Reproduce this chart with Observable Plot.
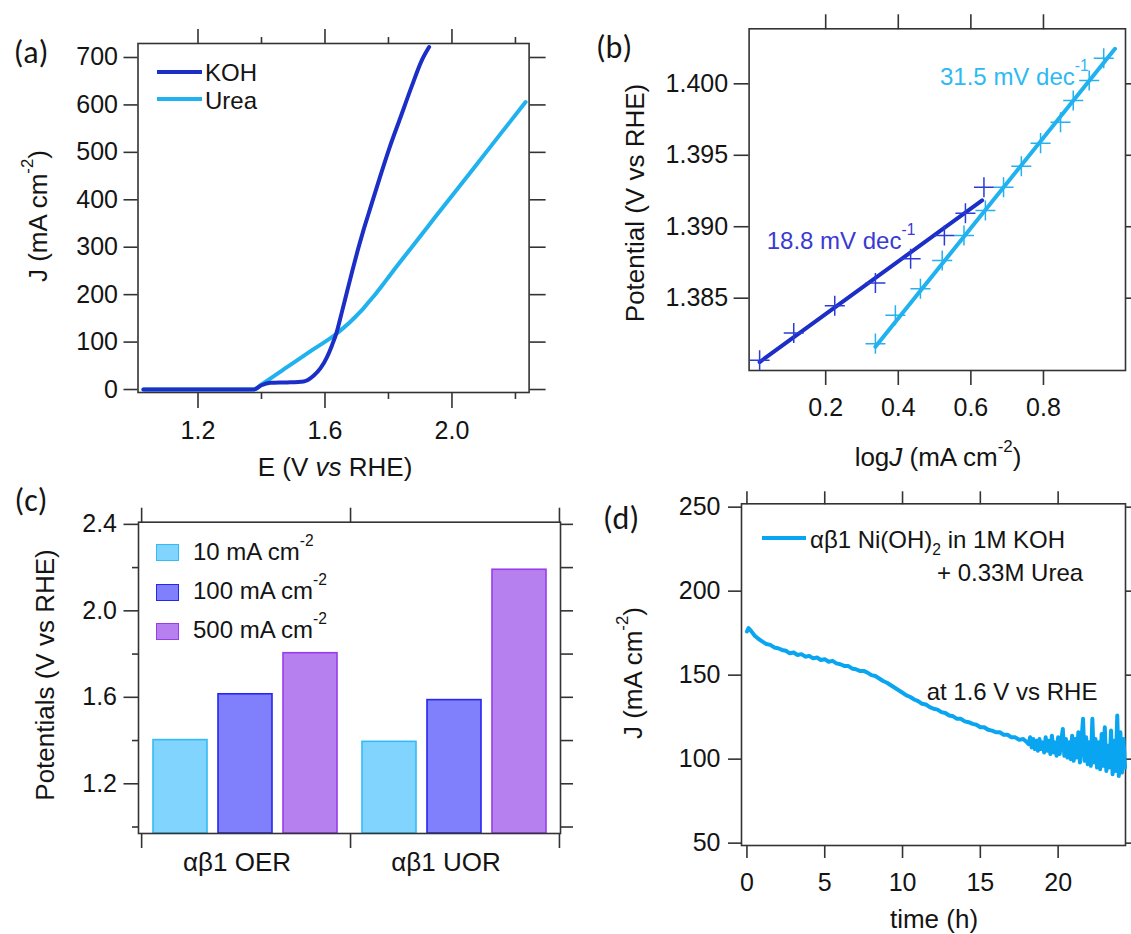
<!DOCTYPE html>
<html>
<head>
<meta charset="utf-8">
<script src="https://cdn.jsdelivr.net/npm/d3@7"></script>
<script src="https://cdn.jsdelivr.net/npm/@observablehq/plot@0.6"></script>
<style>
  body { margin: 0; background: #fff; }
  #fig { position: relative; width: 1131px; height: 934px; overflow: hidden; background: #fff;
         font-family: "Liberation Sans", Arial, Helvetica, sans-serif; color: #141414; }
  #fig svg { position: absolute; left: 0; top: 0; background: transparent !important; max-width: none !important; }
  .t { position: absolute; white-space: nowrap; line-height: 1; }
  .t sup { font-size: 0.65em; position: relative; top: -0.85em; vertical-align: baseline; line-height: 0; }
  .t sub { font-size: 0.65em; position: relative; top: 0.5em; vertical-align: baseline; line-height: 0; }
  .sw { position: absolute; box-sizing: border-box; }
</style>
</head>
<body>
<div id="fig"></div>
<script>
// ---------------- DATA ----------------
// (a) LSV curves
const aE_KOH  = [1.028, 1.20, 1.376, 1.400, 1.428, 1.480, 1.533, 1.564, 1.586, 1.606, 1.622, 1.637, 1.652, 1.669, 1.686, 1.703, 1.720, 1.737, 1.770, 1.804, 1.838, 1.872, 1.905, 1.928];
const aJ_KOH  = [0, 0, 0, 9, 14, 15, 17, 29, 45, 68, 93, 121, 160, 205, 250, 293, 333, 370, 441, 511, 574, 637, 694, 722];
const aE_Urea = [1.028, 1.20, 1.376, 1.399, 1.478, 1.557, 1.635, 1.660, 1.680, 1.700, 1.720, 1.740, 1.760, 1.790, 1.816, 1.872, 1.928, 1.984, 2.040, 2.097, 2.153, 2.232];
const aJ_Urea = [0, 0, 0, 10, 46, 82, 117, 131, 143, 156, 170, 186, 202, 228, 251, 299, 347, 395, 442, 491, 539, 606];
const aSeries = ["KOH", "Urea"];
const aXMajor = [1.2, 1.6, 2.0];
const aXMinor = [1.4, 1.8, 2.2];
const aYTicks = [0, 100, 200, 300, 400, 500, 600, 700];

// (b) Tafel plots
const bLogJ_KOH  = [0.018, 0.112, 0.225, 0.337, 0.434, 0.527, 0.585, 0.636];
const bE_KOH     = [1.38065, 1.38256, 1.38447, 1.38606, 1.38776, 1.38939, 1.39095, 1.39277];
const bLogJ_Urea = [0.337, 0.392, 0.461, 0.521, 0.581, 0.640, 0.690, 0.739, 0.792, 0.847, 0.882, 0.926, 0.966];
const bE_Urea    = [1.38182, 1.38380, 1.38566, 1.38764, 1.38939, 1.39114, 1.39277, 1.39424, 1.39585, 1.39731, 1.39883, 1.40023, 1.40179];
const bFitKOH_x  = [0.018, 0.631];
const bFitKOH_y  = [1.38053, 1.39184];
const bFitUrea_x = [0.337, 0.997];
const bFitUrea_y = [1.38160, 1.40245];
const bSlopes    = ["18.8 mV dec", "31.5 mV dec"];
const bXTicks = [0.2, 0.4, 0.6, 0.8];
const bYTicks = [1.385, 1.390, 1.395, 1.400];

// (c) potentials at current densities
const cGroups   = ["αβ1 OER", "αβ1 UOR"];
const cCurrents = ["10", "100", "500"];
const cOER = [1.402, 1.614, 1.804];
const cUOR = [1.394, 1.587, 2.190];
const cYMajor = [1.2, 1.6, 2.0, 2.4];
const cYMinor = [1.0, 1.4, 1.8, 2.2];
const cEdges  = [0, 1, 2];

// (d) chronoamperometry
const dTime = [0, 0.1, 0.25, 0.5, 0.75, 1, 1.25, 1.5, 1.75, 2, 2.25, 2.5, 2.75, 3, 3.25, 3.5, 3.75, 4, 4.25, 4.5, 4.75,
  5, 5.25, 5.5, 5.75, 6, 6.25, 6.5, 6.75, 7, 7.25, 7.5, 7.75, 8, 8.25, 8.5, 8.75, 9, 9.25, 9.5, 9.75,
  10, 10.25, 10.5, 10.75, 11, 11.25, 11.5, 11.75, 12, 12.25, 12.5, 12.75, 13, 13.25, 13.5, 13.75, 14, 14.25, 14.5, 14.75,
  15, 15.25, 15.5, 15.75, 16, 16.25, 16.5, 16.75, 17, 17.25, 17.5, 17.75, 18,
  18.1, 18.2, 18.3, 18.4, 18.5, 18.6, 18.7, 18.8, 18.9, 19.0, 19.1, 19.2, 19.3, 19.4, 19.5, 19.6, 19.7, 19.8, 19.9, 20.0,
  20.1, 20.2, 20.3, 20.4, 20.5, 20.6, 20.7, 20.8, 20.9, 21.0, 21.1, 21.2, 21.3, 21.4, 21.5, 21.6, 21.7, 21.8, 21.9, 22.0,
  22.1, 22.2, 22.3, 22.4, 22.5, 22.6, 22.7, 22.8, 22.9, 23.0, 23.1, 23.2, 23.3, 23.4, 23.5, 23.6, 23.7, 23.8, 23.9, 24.0,
  24.1, 24.2, 24.3];
const dJ = [176, 178, 176.5, 173.5, 171.5, 170, 168.5, 168, 166.5, 166, 165, 164.5, 163, 163.5, 162, 162.5, 161, 161.5, 160, 160.5, 159,
  159.5, 158, 158.5, 157, 156.5, 155.5, 155.5, 154, 153.5, 152.5, 152.5, 151.5, 150, 149.5, 148, 146.5, 145.5, 144, 142.5, 141,
  139.5, 138, 137, 135.5, 134.5, 133, 132.5, 131, 130, 129.5, 128, 127.5, 126, 125.5, 124, 124, 122.5, 122, 121, 120.5,
  119, 119, 117.5, 117, 116, 116, 114.5, 114.5, 113, 113, 111.5, 112, 110,
  109, 113, 107, 112, 106, 111, 105, 112, 106, 110, 104, 113, 105, 111, 103, 114, 104, 110, 102, 113,
  103, 111, 118, 102, 112, 101, 110, 100, 114, 99, 112, 101, 116, 98, 111, 124, 99, 113, 97, 110,
  96, 124, 98, 112, 95, 110, 94, 115, 96, 119, 93, 108, 95, 117, 91, 111, 93, 126, 90, 116,
  92, 112, 95];
const dXTicks = [0, 5, 10, 15, 20];
const dYTicks = [50, 100, 150, 200, 250];
const dNote = [{t: 11.55, J: 140, text: "at 1.6 V vs RHE"}];

// ---------------- STYLE ----------------
const W = 1131, H = 934;
const FONT = '"Liberation Sans", Arial, Helvetica, sans-serif';
const style = {fontFamily: FONT, fontSize: "25px", color: "#141414", background: "transparent", overflow: "visible"};
const AX = {stroke: "#333", strokeWidth: 1.6, label: null};
const FRAME = {stroke: "#333", strokeWidth: 1.6};
const blank = () => "";
const KOH_COL = "#1b2fc6", UREA_COL = "#1fb2ef";
const KOH_MARK = "#2b3bd8", UREA_MARK = "#25b0f0";
const D_COL = "#0aa5f0";
const barFill   = ["#80d4fe", "#8080fc", "#b680ee"];
const barStroke = ["#33bbf8", "#2626f0", "#9a3cea"];

const fig = document.getElementById("fig");
const zipXY = (xs, ys, kx, ky) => xs.map((v, i) => ({[kx]: v, [ky]: ys[i]}));

// ---------------- (a) ----------------
const aKOH  = zipXY(aE_KOH, aJ_KOH, "E", "J");
const aUrea = zipXY(aE_Urea, aJ_Urea, "E", "J");
fig.appendChild(Plot.plot({
  width: W, height: H, style,
  marginLeft: 137.5, marginRight: W - 528.6, marginTop: 43, marginBottom: H - 392,
  x: {domain: [1.011, 2.243], label: null},
  y: {domain: [-6.3, 729.5], label: null},
  marks: [
    Plot.frame(FRAME),
    Plot.axisY({...AX, anchor: "left", ticks: aYTicks, tickSize: 14, tickPadding: 6, tickFormat: d3.format("d")}),
    Plot.axisY({...AX, anchor: "right", ticks: aYTicks, tickSize: 16, tickFormat: blank}),
    Plot.axisX({...AX, anchor: "bottom", ticks: aXMajor, tickSize: 16, tickPadding: 13, tickFormat: d3.format(".1f")}),
    Plot.axisX({...AX, anchor: "bottom", ticks: aXMinor, tickSize: 7, tickFormat: blank}),
    Plot.axisX({...AX, anchor: "top", ticks: aXMajor, tickSize: 15, tickFormat: blank}),
    Plot.axisX({...AX, anchor: "top", ticks: aXMinor, tickSize: 7, tickFormat: blank}),
    Plot.line(aUrea, {x: "E", y: "J", stroke: UREA_COL, strokeWidth: 4, curve: "monotone-x"}),
    Plot.line(aKOH, {x: "E", y: "J", stroke: KOH_COL, strokeWidth: 4, curve: "monotone-x"})
  ]
}));

// ---------------- (b) ----------------
const bKOH  = zipXY(bLogJ_KOH, bE_KOH, "logJ", "E");
const bUrea = zipXY(bLogJ_Urea, bE_Urea, "logJ", "E");
const bFitK = zipXY(bFitKOH_x, bFitKOH_y, "logJ", "E");
const bFitU = zipXY(bFitUrea_x, bFitUrea_y, "logJ", "E");
fig.appendChild(Plot.plot({
  width: W, height: H, style,
  marginLeft: 748.6, marginRight: W - 1125, marginTop: 28.3, marginBottom: H - 370,
  x: {domain: [-0.011, 1.026], label: null},
  y: {domain: [1.37994, 1.40385], label: null},
  marks: [
    Plot.frame(FRAME),
    Plot.axisY({...AX, anchor: "left", ticks: bYTicks, tickSize: 15, tickPadding: 6, tickFormat: d3.format(".3f")}),
    Plot.axisY({...AX, anchor: "right", ticks: bYTicks, tickSize: 15, tickFormat: blank}),
    Plot.axisX({...AX, anchor: "bottom", ticks: bXTicks, tickSize: 15, tickPadding: 13, tickFormat: d3.format(".1f")}),
    Plot.axisX({...AX, anchor: "top", ticks: bXTicks, tickSize: 15, tickFormat: blank}),
    Plot.line(bFitK, {x: "logJ", y: "E", stroke: KOH_COL, strokeWidth: 4}),
    Plot.line(bFitU, {x: "logJ", y: "E", stroke: UREA_COL, strokeWidth: 4}),
    Plot.dot(bKOH, {x: "logJ", y: "E", symbol: "plus", r: 6.5, stroke: KOH_MARK, strokeWidth: 1.5}),
    Plot.dot(bUrea, {x: "logJ", y: "E", symbol: "plus", r: 6.5, stroke: UREA_MARK, strokeWidth: 1.5})
  ]
}));

// ---------------- (c) ----------------
const cValues = [cOER, cUOR];
const cData = cGroups.flatMap((g, gi) => cCurrents.map((c, ci) => ({group: g, current: c, value: cValues[gi][ci]})));
const cYDomain = [0.97, 2.41];
fig.appendChild(Plot.plot({
  width: W, height: H, style,
  marginLeft: 141, marginRight: W - 559.5, marginTop: 521.7, marginBottom: H - 833,
  fx: {domain: cGroups, padding: 0, label: null},
  x: {domain: cCurrents, paddingInner: 0.168, paddingOuter: 0.183, axis: null, label: null},
  y: {domain: cYDomain, axis: null, label: null},
  marks: [
    ...cCurrents.map((c, i) => Plot.barY(cData.filter(d => d.current === c), {
      fx: "group", x: "current", y1: cYDomain[0], y2: "value",
      fill: barFill[i], stroke: barStroke[i], strokeWidth: 1.6
    })),
    Plot.axisFx({anchor: "bottom", tickSize: 0, tickPadding: 19, fontSize: 26, label: null, dx: -9})
  ]
}));
fig.appendChild(Plot.plot({
  width: W, height: H, style,
  marginLeft: 138, marginRight: W - 560, marginTop: 521.7, marginBottom: H - 833,
  x: {domain: [-0.015, 2.005], label: null},
  y: {domain: cYDomain, label: null},
  marks: [
    Plot.frame(FRAME),
    Plot.axisY({...AX, anchor: "left", ticks: cYMajor, tickSize: 14.5, tickPadding: 7, tickFormat: d3.format(".1f")}),
    Plot.axisY({...AX, anchor: "left", ticks: cYMinor, tickSize: 6, tickFormat: blank}),
    Plot.axisY({...AX, anchor: "right", ticks: [...cYMajor, ...cYMinor], tickSize: 12, tickFormat: blank}),
    Plot.axisX({...AX, anchor: "bottom", ticks: cEdges, tickSize: 15, tickFormat: blank}),
    Plot.axisX({...AX, anchor: "top", ticks: cEdges, tickSize: 15, tickFormat: blank})
  ]
}));

// ---------------- (d) ----------------
const dData = zipXY(dTime, dJ, "t", "J");
fig.appendChild(Plot.plot({
  width: W, height: H, style,
  marginLeft: 741, marginRight: W - 1125, marginTop: 503.3, marginBottom: H - 845,
  x: {domain: [-0.35, 24.33], label: null},
  y: {domain: [48.6, 252], label: null},
  marks: [
    Plot.frame(FRAME),
    Plot.axisY({...AX, anchor: "left", ticks: dYTicks, tickSize: 13, tickPadding: 8, tickFormat: d3.format("d")}),
    Plot.axisY({...AX, anchor: "right", ticks: dYTicks, tickSize: 13, tickFormat: blank}),
    Plot.axisX({...AX, anchor: "bottom", ticks: dXTicks, tickSize: 13, tickPadding: 15, tickFormat: d3.format("d")}),
    Plot.axisX({...AX, anchor: "top", ticks: dXTicks, tickSize: 13, tickFormat: blank}),
    Plot.line(dData, {x: "t", y: "J", stroke: D_COL, strokeWidth: 4, strokeLinejoin: "round"}),
    Plot.text(dNote, {x: "t", y: "J", text: "text", textAnchor: "start", lineAnchor: "middle", fontSize: 24, fill: "#141414"})
  ]
}));

// ---------------- HTML TEXT ----------------
function label(html, o) {
  const d = document.createElement("div");
  d.className = "t";
  d.innerHTML = html;
  const s = d.style;
  s.fontSize = o.size + "px";
  if (o.family) s.fontFamily = o.family;
  if (o.color) s.color = o.color;
  s.left = o.x + "px";
  if (o.center) {
    s.top = o.y + "px";
    s.transform = "translate(-50%,-50%)" + (o.rotate ? " rotate(-90deg)" : "");
  } else {
    s.top = (o.y - 0.8465 * o.size) + "px";
  }
  fig.appendChild(d);
}
function swatch(x, y, w, h, fill, stroke, bw) {
  const d = document.createElement("div");
  d.className = "sw";
  Object.assign(d.style, {left: x + "px", top: y + "px", width: w + "px", height: h + "px", background: fill,
    border: stroke ? `${bw}px solid ${stroke}` : "none"});
  fig.appendChild(d);
}
const PANEL_FONT = 'Carlito, Calibri, Lato, "Open Sans", sans-serif';
label("(a)", {x: 31, y: 53, size: 32, center: true, family: PANEL_FONT});
label("(b)", {x: 614, y: 47.5, size: 32, center: true, family: PANEL_FONT});
label("(c)", {x: 31, y: 501, size: 32, center: true, family: PANEL_FONT});
label("(d)", {x: 621, y: 519, size: 32, center: true, family: PANEL_FONT});

// axis titles
label("J (mA cm<sup>-2</sup>)", {x: 38, y: 216, size: 26, center: true, rotate: true});
label("E (V <i>vs</i> RHE)", {x: 335, y: 467, size: 26, center: true});
label("Potential (V vs RHE)", {x: 634.5, y: 202.5, size: 26, center: true, rotate: true});
label("log<i>J</i> (mA cm<sup>-2</sup>)", {x: 938, y: 457, size: 26, center: true});
label("Potentials (V vs RHE)", {x: 44.5, y: 675, size: 26, center: true, rotate: true});
label("J (mA cm<sup>-2</sup>)", {x: 633, y: 673, size: 26, center: true, rotate: true});
label("time (h)", {x: 934, y: 919, size: 26, center: true});

// (a) legend
swatch(157, 69.7, 45, 4, KOH_COL);
label(aSeries[0], {x: 205, y: 81.7, size: 24});
swatch(157, 97, 45, 4, UREA_COL);
label(aSeries[1], {x: 205, y: 109, size: 24});

// (b) slope annotations
label(bSlopes[0] + "<sup>-1</sup>", {x: 766.7, y: 249, size: 24, color: "#3a3ad2"});
label(bSlopes[1] + "<sup>-1</sup>", {x: 940, y: 85, size: 24, color: "#2db9f2"});

// (c) legend
const cRowTop = [544, 584, 623], cRowBase = [560, 599, 638];
cCurrents.forEach((c, i) => {
  swatch(156, cRowTop[i], 23, 17, barFill[i], barStroke[i], 1.6);
  label(`${c} mA cm<sup>-2</sup>`, {x: 193, y: cRowBase[i], size: 24});
});

// (d) legend
swatch(762, 536.3, 44, 4, D_COL);
label("αβ1 Ni(OH)<sub>2</sub> in 1M KOH", {x: 810, y: 548, size: 24});
label("+ 0.33M Urea", {x: 937, y: 581.5, size: 24});
</script>
</body>
</html>
